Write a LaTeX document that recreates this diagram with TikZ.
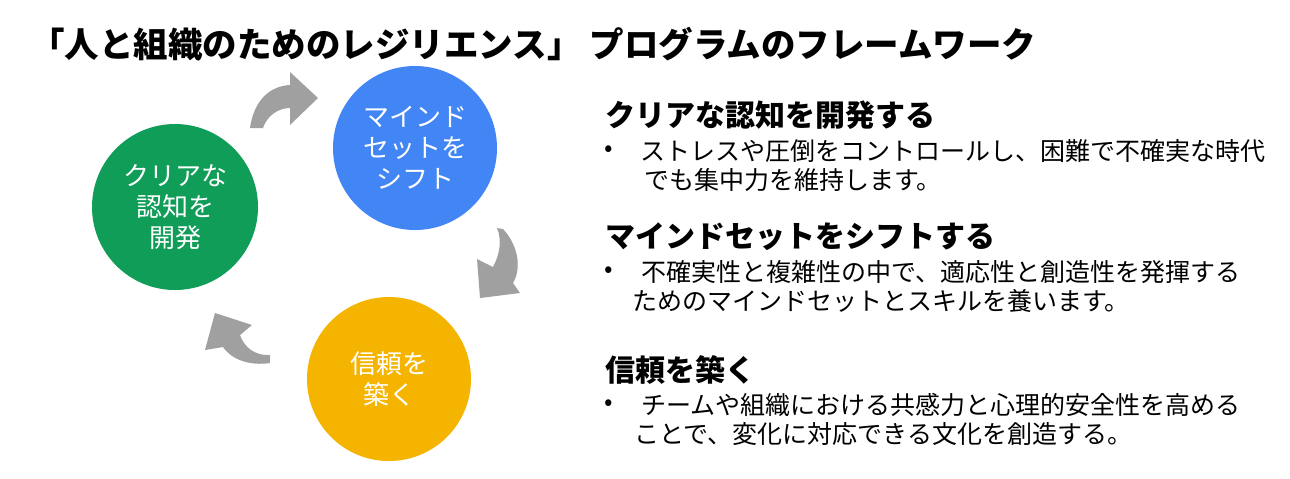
\documentclass[tikz,border=0pt]{standalone}
\usepackage{fontspec}
\setmainfont{Noto Sans CJK JP}
\definecolor{cgreen}{HTML}{0F9D58}
\definecolor{cblue}{HTML}{4285F4}
\definecolor{cyellow}{HTML}{F4B400}
\definecolor{carrow}{HTML}{A0A0A0}
\begin{document}
\begin{tikzpicture}[x=0.5pt,y=-0.5pt,
  circ/.style={circle,minimum size=#1,inner sep=0pt,text=white,align=center,
    font=\fontsize{13pt}{15.5pt}\selectfont},
  head/.style={anchor=west,inner sep=0pt,font=\bfseries\fontsize{15pt}{18pt}\selectfont},
  body/.style={anchor=west,inner sep=0pt,font=\fontsize{12.5pt}{15pt}\selectfont},
  arrowshape/.style={fill=carrow,draw=none}]
\useasboundingbox (0,0) rectangle (1290,478);
\fill[white] (0,0) rectangle (1290,478);
% title
\node[anchor=west,inner sep=0pt,font=\bfseries\fontsize{17.25pt}{20pt}\selectfont] (title) at (30,44)
  {「人と組織のためのレジリエンス」 プログラムのフレームワーク};
% circles
\node[circ=83pt,fill=cgreen] (green) at (175,207) {クリアな\\認知を\\開発};
\node[circ=82pt,fill=cblue] (blue) at (415,148) {マインド\\セットを\\シフト};
\node[circ=82pt,fill=cyellow] (yellow) at (389,379) {信頼を\\築く};
% arrows
\fill[arrowshape] (250,128) .. controls (254,100) and (270,86) .. (290,85)
  -- (290,72) -- (318,98) -- (290,125) -- (290,108)
  .. controls (278,108) and (267,116) .. (263,128) -- cycle;
\fill[arrowshape] (503,229) .. controls (518,245) and (522,268) .. (513,283)
  -- (520,293) -- (480,298) -- (477,259) -- (493,267)
  .. controls (500,254) and (502,240) .. (497,228) -- cycle;
\fill[arrowshape] (270,355) .. controls (255,356) and (244,347) .. (240,335)
  -- (252,325) -- (215,313) -- (205,350) -- (223,347)
  .. controls (232,360) and (250,366) .. (270,363) -- cycle;
% right texts
\node[head] (h1) at (605,115) {クリアな認知を開発する};
\node[body] (b1) at (604,151) {•};
\node[body] (t1a) at (640,151) {ストレスや圧倒をコントロールし、困難で不確実な時代};
\node[body] (t1b) at (644,180) {でも集中力を維持します。};
\node[head] (h2) at (605,237) {マインドセットをシフトする};
\node[body] (b2) at (604,272) {•};
\node[body] (t2a) at (641,272) {不確実性と複雑性の中で、適応性と創造性を発揮する};
\node[body] (t2b) at (632,301) {ためのマインドセットとスキルを養います。};
\node[head] (h3) at (605,370) {信頼を築く};
\node[body] (b3) at (604,405) {•};
\node[body] (t3a) at (641,405) {チームや組織における共感力と心理的安全性を高める};
\node[body] (t3b) at (634,434) {ことで、変化に対応できる文化を創造する。};
\end{tikzpicture}
\end{document}
